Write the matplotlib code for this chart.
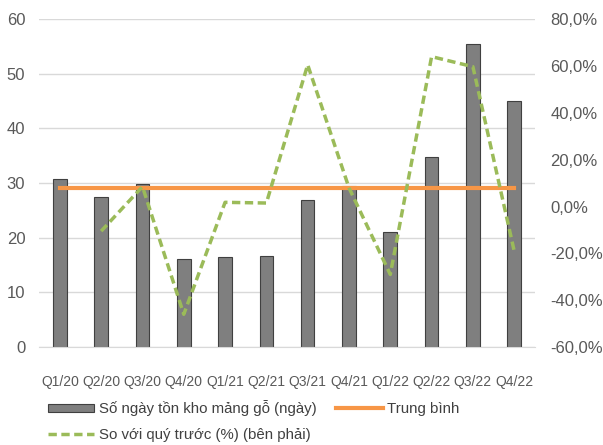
import numpy as np
import matplotlib.pyplot as plt

plt.rcParams['font.family'] = ['Liberation Sans', 'DejaVu Sans']

quarters = ['Q1/20', 'Q2/20', 'Q3/20', 'Q4/20', 'Q1/21', 'Q2/21',
            'Q3/21', 'Q4/21', 'Q1/22', 'Q2/22', 'Q3/22', 'Q4/22']
days = [30.7, 27.5, 29.9, 16.2, 16.5, 16.7, 27.0, 29.5, 21.1, 34.7, 55.4, 45.0]
qoq = [np.nan, -10.5, 8.5, -46.0, 1.8, 1.5, 60.5, 8.0, -29.0, 64.0, 59.7, -19.0]

txt = '#595959'
x = np.arange(len(quarters))
avg = np.mean(days)

fig = plt.figure(figsize=(6.03, 4.45), dpi=100)
ax = fig.add_axes([0.065, 0.22, 0.822, 0.737])
ax2 = ax.twinx()

bars = ax.bar(x, days, width=0.33, color='#7f7f7f', edgecolor='#404040',
              linewidth=0.8, zorder=2, label='Số ngày tồn kho mảng gỗ (ngày)')
line_avg, = ax.plot([x[0], x[-1]], [avg, avg], color='#f79646', lw=3,
                    zorder=3, label='Trung bình')
line_q, = ax2.plot(x, qoq, color='#9bbb59', lw=2.5, ls=(0, (2.4, 1.3)),
                   label='So với quý trước (%) (bên phải)')

ax.set_ylim(0, 60)
ax.set_yticks(range(0, 61, 10))
ax.set_xlim(-0.5, len(quarters) - 0.5)
ax.set_xticks(x)
ax.set_xticklabels(quarters)
ax.grid(axis='y', color='#d9d9d9', lw=1, zorder=0)
ax.set_axisbelow(True)

ax2.set_ylim(-60, 80)
ax2.set_yticks(range(-60, 81, 20))
ax2.set_yticklabels([f'{v:.1f}%'.replace('.', ',') for v in range(-60, 81, 20)])

for a in (ax, ax2):
    for s in a.spines.values():
        s.set_visible(False)
    a.tick_params(length=0, colors=txt, labelsize=12)
ax.spines['bottom'].set_visible(True)
ax.spines['bottom'].set_color('#d9d9d9')
ax.tick_params(axis='x', labelsize=10, pad=20)
ax.tick_params(axis='y', pad=10)
ax2.tick_params(axis='y', pad=11)

leg = fig.legend(handles=[bars, line_q, line_avg], ncol=2, loc='upper left',
                 bbox_to_anchor=(0.062, 0.125), frameon=False, fontsize=10.8,
                 handlelength=3.1, handleheight=0.45, handletextpad=0.3,
                 columnspacing=1.3, labelspacing=0.82, borderpad=0.2)
for t in leg.get_texts():
    t.set_color('#404040')

fig.savefig('out.png', dpi=100)
